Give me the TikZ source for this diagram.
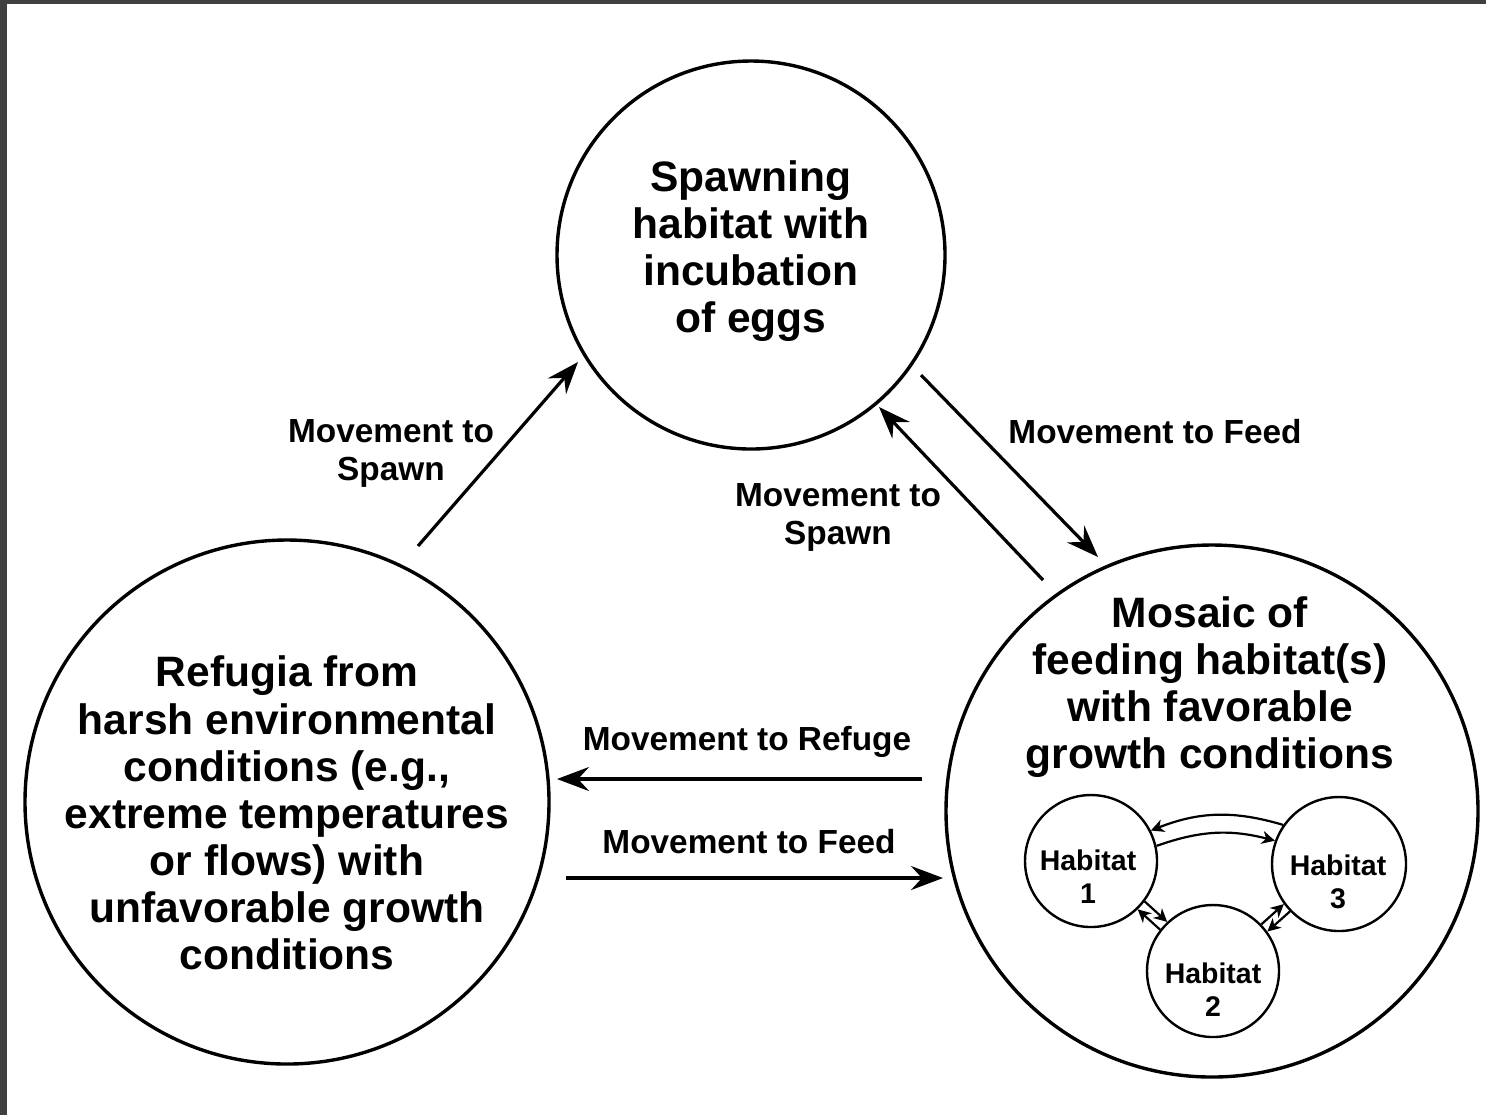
\documentclass[tikz,border=0pt]{standalone}
\usepackage{fontspec}
\setmainfont{Liberation Sans}
\usetikzlibrary{arrows.meta}
\definecolor{framegray}{HTML}{404040}
\begin{document}
\begin{tikzpicture}[x=0.1mm,y=-0.1mm,
  zone/.style={circle,draw,line width=0.34mm,inner sep=0pt,minimum size=#1},
  subzone/.style={circle,draw,line width=0.24mm,inner sep=0pt,minimum size=#1},
  bigtxt/.style={font=\fontsize{12.1}{13.4}\selectfont\bfseries,align=center,inner sep=0pt},
  lbl/.style={font=\fontsize{9.5}{10.8}\selectfont\bfseries,align=center,inner sep=0pt},
  htxt/.style={font=\fontsize{8.1}{9.4}\selectfont\bfseries,align=center,inner sep=0pt},
  mv/.style={line width=0.32mm,-{Stealth[length=3.2mm,width=2.4mm,inset=1.1mm]}},
  hv/.style={line width=0.22mm,-{Stealth[length=1.3mm,width=1.3mm,inset=0.4mm]}}
]
\path[use as bounding box] (0,0) rectangle (1486,1115);
\fill[white] (0,0) rectangle (1486,1115);
% dark frame along the top and left edges
\fill[framegray] (0,0) rectangle (1486,4);
\fill[framegray] (0,0) rectangle (7,1115);

% the three habitat zones
\node[zone=38.8mm] (spawn) at (751,255) {};
\node[zone=52.4mm] (refuge) at (287,802) {};
\node[zone=53.2mm] (feed) at (1212,811) {};

\node[bigtxt] (spawntxt) at (751,251) {Spawning\\habitat with\\incubation\\of eggs};
\node[bigtxt] (refugetxt) at (287,813) {Refugia from\\harsh environmental\\conditions (e.g.,\\extreme temperatures\\or flows) with\\unfavorable growth\\conditions};
\node[bigtxt] (feedtxt) at (1210,687) {Mosaic of\\feeding habitat(s)\\with favorable\\growth conditions};

% feeding mosaic
\node[subzone=13.2mm] (h1) at (1091,861) {};
\node[subzone=13.4mm] (h3) at (1339,864) {};
\node[subzone=13.2mm] (h2) at (1213,971) {};
\node[htxt] (h1txt) at (1088,877) {Habitat\\1};
\node[htxt] (h3txt) at (1338,882) {Habitat\\3};
\node[htxt] (h2txt) at (1213,990) {Habitat\\2};

% paired movements between habitats
\draw[hv] (h3.145) to[bend right=19] (h1.27);
\draw[hv] (h1.13) to[bend left=17] (h3.160);
\draw[hv] (h2.142.3) -- (h1.-46.3);
\draw[hv] (h1.-37.7) -- (h2.133.7);
\draw[hv] (h2.44.6) -- (h3.216);
\draw[hv] (h3.224.6) -- (h2.36);

% movements between zones
\coordinate (a1s) at (418,546);  \coordinate (a1e) at (578,362);
\coordinate (a2s) at (921,375);  \coordinate (a2e) at (1098,557);
\coordinate (a3s) at (1043,580); \coordinate (a3e) at (879,407);
\coordinate (a4s) at (922,779);  \coordinate (a4e) at (557,779);
\coordinate (a5s) at (566,878);  \coordinate (a5e) at (943,878);

\draw[mv] (a1s) -- (a1e);
\draw[mv] (a2s) -- (a2e);
\draw[mv] (a3s) -- (a3e);
\draw[mv] (a4s) -- (a4e);
\draw[mv] (a5s) -- (a5e);

\node[lbl] (l1) at (391,453) {Movement to\\Spawn};
\node[lbl] (l2) at (1155,432) {Movement to Feed};
\node[lbl] (l3) at (838,517) {Movement to\\Spawn};
\node[lbl] (l4) at (747,742) {Movement to Refuge};
\node[lbl] (l5) at (749,842) {Movement to Feed};
\end{tikzpicture}
\end{document}
